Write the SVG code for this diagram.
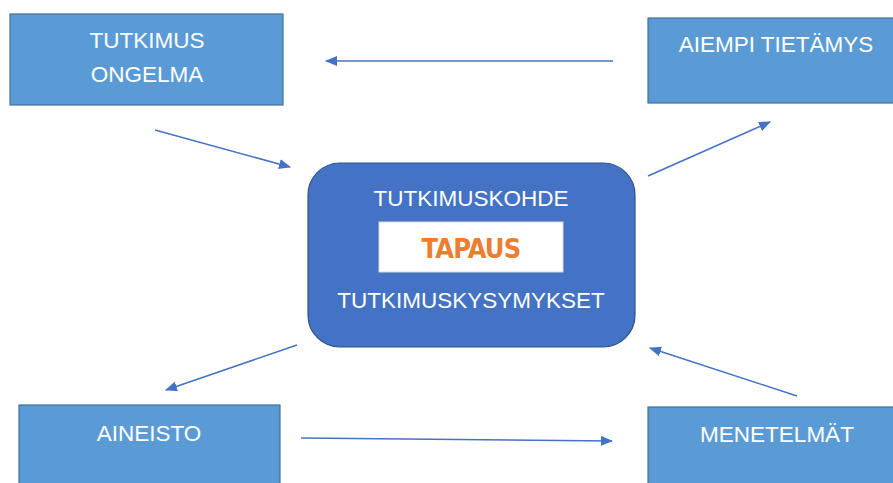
<svg xmlns="http://www.w3.org/2000/svg" width="893" height="483" viewBox="0 0 893 483">
<defs>
<style>
.box{fill:#5b9bd5;stroke:#41719c;stroke-width:1.2}
.lbl{font-family:"Liberation Sans",Arial,sans-serif;font-size:22.5px;fill:#ffffff;text-anchor:middle}
.con{stroke:#4472c4;stroke-width:1.5;fill:none;marker-end:url(#ah)}
</style>
<marker id="ah" viewBox="0 0 12 10" refX="11" refY="5" markerWidth="12" markerHeight="10" markerUnits="userSpaceOnUse" orient="auto">
<path d="M0,0 L12,5 L0,10 z" fill="#4472c4"/>
</marker>
</defs>
<rect width="893" height="483" fill="#ffffff"/>
<g id="connectors">
<line class="con" x1="613" y1="61" x2="326" y2="61"/>
<line class="con" x1="155" y1="130" x2="290" y2="167"/>
<line class="con" x1="648" y1="176" x2="770" y2="122"/>
<line class="con" x1="297" y1="345" x2="166" y2="390"/>
<line class="con" x1="301" y1="438" x2="612" y2="441"/>
<line class="con" x1="797" y1="396" x2="650" y2="348"/>
</g>
<g id="tutkimus-ongelma">
<rect class="box" x="10" y="14" width="273" height="91"/>
<text class="lbl" x="147" y="48">TUTKIMUS</text>
<text class="lbl" x="147" y="82">ONGELMA</text>
</g>
<g id="aiempi-tietamys">
<rect class="box" x="648" y="18" width="250" height="85"/>
<text class="lbl" x="776" y="52">AIEMPI TIETÄMYS</text>
</g>
<g id="tutkimuskohde">
<rect x="308" y="163" width="327" height="184" rx="32" ry="32" fill="#4472c4" stroke="#2f528f" stroke-width="1.2"/>
<text class="lbl" x="471" y="206">TUTKIMUSKOHDE</text>
<rect x="379" y="222" width="184" height="50" fill="#ffffff" stroke="#d9d9d9" stroke-width="1"/>
<text x="471" y="258" font-family="'DejaVu Sans Condensed','Liberation Sans Narrow',sans-serif" font-weight="bold" font-size="27" fill="#ed7d31" text-anchor="middle" letter-spacing="-0.8">TAPAUS</text>
<text class="lbl" x="471" y="308">TUTKIMUSKYSYMYKSET</text>
</g>
<g id="aineisto">
<rect class="box" x="19" y="405" width="261" height="85"/>
<text class="lbl" x="149" y="441">AINEISTO</text>
</g>
<g id="menetelmat">
<rect class="box" x="648" y="407" width="250" height="85"/>
<text class="lbl" x="777" y="442">MENETELMÄT</text>
</g>
</svg>
